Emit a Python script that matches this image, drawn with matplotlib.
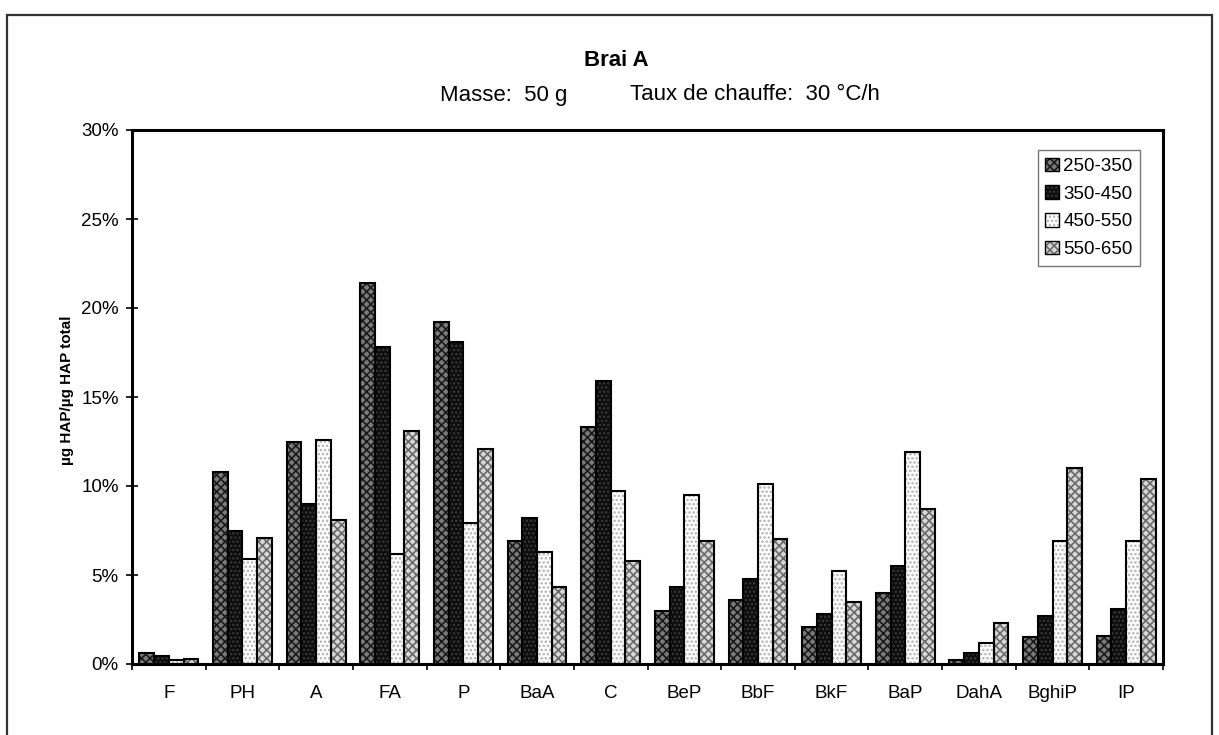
import matplotlib
matplotlib.use('Agg')
import matplotlib.pyplot as plt
import numpy as np
from matplotlib.patches import Patch, Rectangle
from matplotlib.ticker import FuncFormatter

categories = ['F', 'PH', 'A', 'FA', 'P', 'BaA', 'C', 'BeP', 'BbF', 'BkF', 'BaP', 'DahA', 'BghiP', 'IP']
s_250_350 = [0.6, 10.8, 12.5, 21.4, 19.2, 6.9, 13.3, 3.0, 3.6, 2.1, 4.0, 0.2, 1.5, 1.6]
s_350_450 = [0.45, 7.5, 9.0, 17.8, 18.1, 8.2, 15.9, 4.3, 4.8, 2.8, 5.5, 0.6, 2.7, 3.1]
s_450_550 = [0.25, 5.9, 12.6, 6.2, 7.9, 6.3, 9.7, 9.5, 10.1, 5.2, 11.9, 1.2, 6.9, 6.9]
s_550_650 = [0.3, 7.1, 8.1, 13.1, 12.1, 4.3, 5.8, 6.9, 7.0, 3.5, 8.7, 2.3, 11.0, 10.4]
series_labels = ['250-350', '350-450', '450-550', '550-650']
y_ticks = [0, 5, 10, 15, 20, 25, 30]

title = 'Brai A'
subtitle_left = 'Masse:  50 g'
subtitle_right = 'Taux de chauffe:  30 °C/h'
y_label = 'µg HAP/µg HAP total'

plt.rcParams['font.family'] = ['Liberation Sans', 'DejaVu Sans']
plt.rcParams['hatch.linewidth'] = 1.2

W, H = 1219, 735
fig = plt.figure(figsize=(W / 100, H / 100), dpi=100)
L, R, T, B = 132, 1163, 130, 664
ax = fig.add_axes([L / W, 1 - B / H, (R - L) / W, (B - T) / H])

series = [s_250_350, s_350_450, s_450_550, s_550_650]
styles = [
    dict(color='#7a7a7a', hatch='xxxx', edgecolor='#1a1a1a'),
    dict(color='#0c0c0c', hatch='....', edgecolor='#3a3a3a'),
    dict(color='#ffffff', hatch='....', edgecolor='#b0b0b0'),
    dict(color='#d8d8d8', hatch='xxxx', edgecolor='#6a6a6a'),
]
n = len(categories)
x = np.arange(n)
width = 0.2
handles = []
for i, (vals, st) in enumerate(zip(series, styles)):
    off = (i - 1.5) * width
    ax.bar(x + off, vals, width, color=st['color'], hatch=st['hatch'],
           edgecolor=st['edgecolor'], linewidth=0, zorder=2)
    ax.bar(x + off, vals, width, fill=False, edgecolor='black', linewidth=1.5, zorder=3)
    hp = Patch(facecolor=st['color'], hatch=st['hatch'], edgecolor=st['edgecolor'], linewidth=0)
    op = Patch(fill=False, edgecolor='black', linewidth=1.0)
    handles.append((hp, op))

ax.set_xlim(-0.5, n - 0.5)
ax.set_ylim(y_ticks[0], y_ticks[-1])
ax.set_yticks(y_ticks)
ax.yaxis.set_major_formatter(FuncFormatter(lambda v, p: f'{v:.0f}%'))
ax.set_xticks(x)
ax.set_xticklabels(categories)
ax.set_xticks(np.arange(n + 1) - 0.5, minor=True)
ax.tick_params(axis='x', which='major', length=0, pad=15, labelsize=13.5)
ax.tick_params(axis='x', which='minor', direction='out', length=4, width=1.2)
ax.tick_params(axis='y', direction='inout', length=9, width=1.2, pad=5, labelsize=13.5)
for sp in ax.spines.values():
    sp.set_linewidth(2.2)

leg = ax.legend(handles, series_labels, loc='upper right',
                bbox_to_anchor=(1140 / W, 1 - 150 / H), bbox_transform=fig.transFigure,
                fontsize=13.5, frameon=True, fancybox=False, borderaxespad=0,
                handlelength=0.75, handleheight=0.75, handletextpad=0.2,
                labelspacing=0.55, borderpad=0.4)
leg.get_frame().set_edgecolor('#555555')
leg.get_frame().set_linewidth(1.0)

fig.text(616 / W, 1 - 60 / H, title, ha='center', va='center', fontsize=16, fontweight='bold')
fig.text(440 / W, 1 - 95 / H, subtitle_left, ha='left', va='center', fontsize=16)
fig.text(630 / W, 1 - 95 / H, subtitle_right, ha='left', va='center', fontsize=16)
fig.text(67 / W, 1 - 390 / H, y_label, ha='center', va='center', rotation=90,
         fontsize=11, fontweight='bold')

fig.add_artist(Rectangle((7 / W, -0.01), (1212 - 7) / W, 1.01 - 15 / H,
                         transform=fig.transFigure, fill=False, edgecolor='#333333', linewidth=1.6))

fig.savefig('out.png', dpi=100)
